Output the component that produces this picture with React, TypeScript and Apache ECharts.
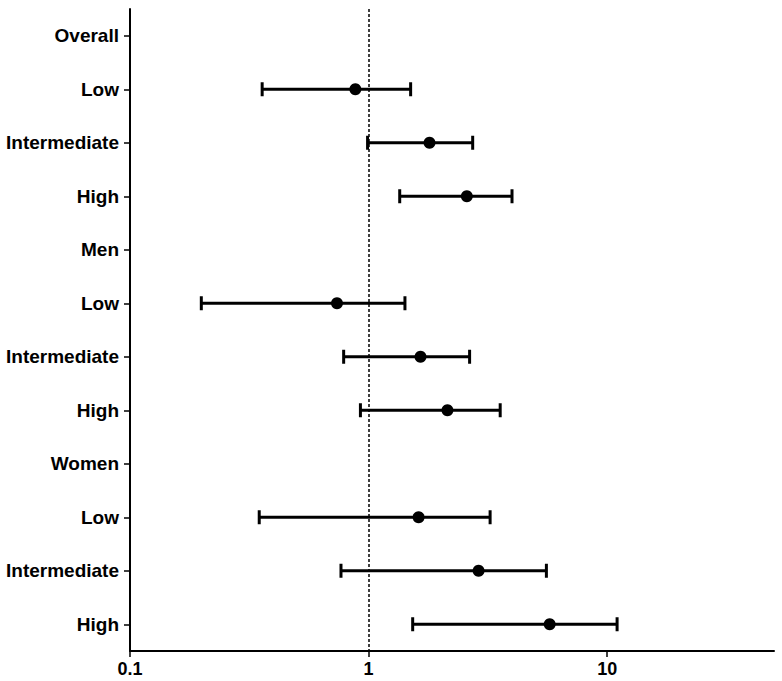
import React, { useEffect, useRef } from "react";
import * as echarts from "echarts";

const categories = [
  "Overall", "Low", "Intermediate", "High",
  "Men", "Low", "Intermediate", "High",
  "Women", "Low", "Intermediate", "High",
];
const estimates: (number | null)[] = [null, 0.88, 1.8, 2.58, null, 0.737, 1.65, 2.14, null, 1.62, 2.89, 5.74];
const lowerCI: (number | null)[] = [null, 0.358, 0.99, 1.35, null, 0.199, 0.786, 0.924, null, 0.348, 0.766, 1.53];
const upperCI: (number | null)[] = [null, 1.5, 2.73, 3.99, null, 1.42, 2.65, 3.56, null, 3.23, 5.56, 11.0];
const xTickValues = [0.1, 1, 10];
const xTickLabels = ["0.1", "1", "10"];

export default function App() {
  const ref = useRef<HTMLDivElement>(null);
  useEffect(() => {
    document.body.style.margin = "0";
    if (!ref.current) return;
    const chart = echarts.init(ref.current, null, { renderer: "svg" });
    const pointData: any[] = [];
    const ciData: any[] = [];
    categories.forEach((_, i) => {
      if (estimates[i] != null) {
        pointData.push([estimates[i], i]);
        ciData.push([lowerCI[i], upperCI[i], i]);
      }
    });
    const font = "'Liberation Sans', Arial, sans-serif";
    chart.setOption({
      animation: false,
      backgroundColor: "#ffffff",
      grid: { left: 130, right: 8, top: 9, bottom: 30, containLabel: false },
      xAxis: {
        type: "log",
        logBase: 10,
        min: 0.1,
        max: 50,
        axisLine: { show: true, lineStyle: { color: "#000", width: 2 } },
        axisTick: { show: true, length: 6, customValues: xTickValues, lineStyle: { color: "#000", width: 1.5 } },
        splitLine: { show: false },
        minorTick: { show: false },
        axisLabel: {
          color: "#000",
          fontWeight: "bold",
          fontSize: 18,
          fontFamily: font,
          margin: 9,
          customValues: xTickValues,
          formatter: (v: number) => {
            const idx = xTickValues.findIndex((t) => Math.abs(t - v) / t < 1e-6);
            return idx >= 0 ? xTickLabels[idx] : "";
          },
        },
      },
      yAxis: {
        type: "category",
        data: categories,
        inverse: true,
        axisLine: { show: true, lineStyle: { color: "#000", width: 2 } },
        axisTick: { show: true, alignWithLabel: true, length: 6, lineStyle: { color: "#000", width: 1.5 } },
        splitLine: { show: false },
        axisLabel: {
          color: "#000",
          fontWeight: "bold",
          fontSize: 19,
          fontFamily: font,
          margin: 11,
        },
      },
      series: [
        {
          type: "custom",
          data: ciData,
          encode: { x: [0, 1], y: 2 },
          renderItem: (params: any, api: any) => {
            const lo = api.coord([api.value(0), api.value(2)]);
            const hi = api.coord([api.value(1), api.value(2)]);
            const h = 7;
            const style = { stroke: "#000", lineWidth: 3, fill: "none" };
            return {
              type: "group",
              children: [
                { type: "line", shape: { x1: lo[0], y1: lo[1], x2: hi[0], y2: hi[1] }, style },
                { type: "line", shape: { x1: lo[0], y1: lo[1] - h, x2: lo[0], y2: lo[1] + h }, style },
                { type: "line", shape: { x1: hi[0], y1: hi[1] - h, x2: hi[0], y2: hi[1] + h }, style },
              ],
            };
          },
          z: 2,
        },
        {
          type: "scatter",
          data: pointData,
          symbol: "circle",
          symbolSize: 12,
          itemStyle: { color: "#000", opacity: 1 },
          z: 3,
          markLine: {
            silent: true,
            symbol: ["none", "none"],
            label: { show: false },
            lineStyle: { color: "#000", width: 1.5, type: [3, 2], opacity: 1 },
            data: [{ xAxis: 1 }],
          },
        },
      ],
    });
    return () => chart.dispose();
  }, []);
  return <div ref={ref} style={{ width: 782, height: 681 }} />;
}
